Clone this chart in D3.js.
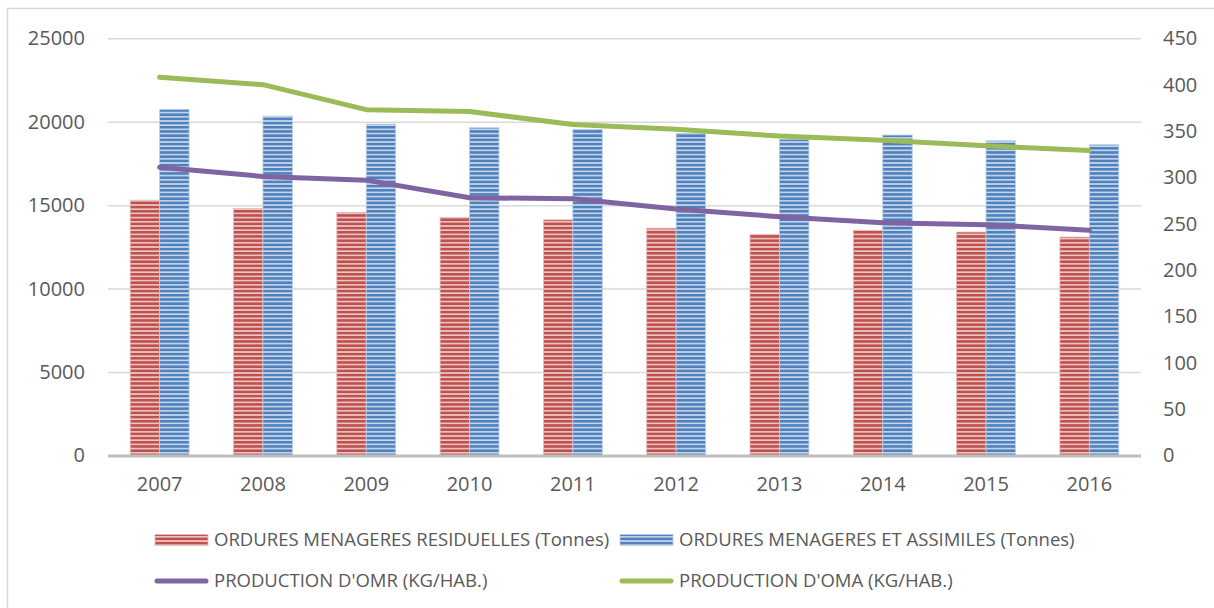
<!DOCTYPE html>
<html><head><meta charset="utf-8">
<script src="https://cdn.jsdelivr.net/npm/d3@7"></script>
<style>
body{margin:0;background:#fff;}
svg{display:block;font-family:"Open Sans",sans-serif;}
</style></head>
<body>
<svg id="chart" width="1214" height="608"></svg>
<script>
const years = ["2007","2008","2009","2010","2011","2012","2013","2014","2015","2016"];
const omrTonnes = [15300, 14800, 14570, 14270, 14120, 13620, 13250, 13500, 13390, 13090];
const omaTonnes = [20740, 20340, 19860, 19640, 19540, 19300, 18950, 19200, 18860, 18620];
const prodOmr = [311, 301, 297, 278, 277, 266, 257.5, 251, 249, 243];
const prodOma = [408, 400, 373, 371, 357, 352, 344.5, 340, 334, 329];
const leftTicks = [0, 5000, 10000, 15000, 20000, 25000];
const rightTicks = [0, 50, 100, 150, 200, 250, 300, 350, 400, 450];
const seriesNames = ["ORDURES MENAGERES RESIDUELLES (Tonnes)", "ORDURES MENAGERES ET ASSIMILES (Tonnes)", "PRODUCTION D'OMR (KG/HAB.)", "PRODUCTION D'OMA (KG/HAB.)"];

const svg = d3.select("#chart");
const L = 108, R = 1141, T = 38.3, B = 455.5;
const txt = "#595959";

// outer border
svg.append("rect").attr("x",7.5).attr("y",8.5).attr("width",1220).attr("height",620)
  .attr("fill","none").attr("stroke","#d9d9d9").attr("stroke-width",1.5);

// patterns
const defs = svg.append("defs");
function stripe(id, dark, light){
  const p = defs.append("pattern").attr("id",id).attr("patternUnits","userSpaceOnUse")
    .attr("width",8).attr("height",4.2);
  p.append("rect").attr("width",8).attr("height",4.2).attr("fill",light);
  p.append("rect").attr("y",0).attr("width",8).attr("height",2.6).attr("fill",dark);
}
stripe("pRed","#c0504d","#ecc9c8");
stripe("pBlue","#4f81bd","#c9d8ec");

const x = d3.scaleBand().domain(years).range([L,R]).paddingInner(0.43).paddingOuter(0.215);
const xs = d3.scaleBand().domain(["omr","oma"]).range([0,x.bandwidth()]);
const yL = d3.scaleLinear().domain([0,25000]).range([B,T]);
const yR = d3.scaleLinear().domain([0,450]).range([B,T]);

// gridlines
const grid = svg.append("g").attr("transform",`translate(${L},0)`)
  .call(d3.axisLeft(yL).tickValues(leftTicks.slice(1)).tickSize(-(R-L)).tickFormat(""));
grid.select(".domain").remove();
grid.selectAll("line").attr("stroke","#d9d9d9").attr("stroke-width",1.5);

// bars
const bars = svg.append("g");
years.forEach((yr,i)=>{
  [["omr",omrTonnes[i],"url(#pRed)","#e6b9b8"],["oma",omaTonnes[i],"url(#pBlue)","#b9cde5"]].forEach(([k,v,f,s])=>{
    bars.append("rect").attr("x",x(yr)+xs(k)).attr("width",xs.bandwidth())
      .attr("y",yL(v)).attr("height",B-yL(v)).attr("fill",f)
      .attr("stroke",s).attr("stroke-width",0.8);
  });
});

// baseline
svg.append("line").attr("x1",L).attr("x2",R).attr("y1",B+0.5).attr("y2",B+0.5)
  .attr("stroke","#bfbfbf").attr("stroke-width",3);

// lines
const cx = d => x(d)+x.bandwidth()/2;
const lineGen = d3.line().x((d,i)=>cx(years[i])).y(d=>yR(d));
svg.append("path").datum(prodOmr).attr("d",lineGen).attr("fill","none")
  .attr("stroke","#8064a2").attr("stroke-width",5).attr("stroke-linecap","round").attr("stroke-linejoin","round");
svg.append("path").datum(prodOma).attr("d",lineGen).attr("fill","none")
  .attr("stroke","#9bbb59").attr("stroke-width",5).attr("stroke-linecap","round").attr("stroke-linejoin","round");

// axes
const fs = 20;
const ax1 = svg.append("g").attr("transform",`translate(${L},0)`)
  .call(d3.axisLeft(yL).tickValues(leftTicks).tickSize(0).tickPadding(23).tickFormat(d3.format("d")));
const ax2 = svg.append("g").attr("transform",`translate(${R},0)`)
  .call(d3.axisRight(yR).tickValues(rightTicks).tickSize(0).tickPadding(22).tickFormat(d3.format("d")));
const ax3 = svg.append("g").attr("transform",`translate(0,${B})`)
  .call(d3.axisBottom(x).tickSize(0).tickPadding(21));
[ax1,ax2,ax3].forEach(a=>{
  a.select(".domain").remove();
  a.selectAll("text").attr("fill",txt).style("font-size",fs+"px").style("font-family",'"Open Sans",sans-serif');
});

// legend
const leg = svg.append("g");
const legPos = [[155,540],[620,540],[155,581],[620,581]];
const legStyle = [
  {type:"rect",fill:"url(#pRed)",stroke:"#e6b9b8"},
  {type:"rect",fill:"url(#pBlue)",stroke:"#b9cde5"},
  {type:"line",color:"#8064a2"},
  {type:"line",color:"#9bbb59"}];
seriesNames.forEach((n,i)=>{
  const [lx,ly] = legPos[i];
  const st = legStyle[i];
  if(st.type==="rect"){
    leg.append("rect").attr("x",lx).attr("y",ly-5.5).attr("width",53).attr("height",11)
      .attr("fill",st.fill).attr("stroke",st.stroke).attr("stroke-width",0.8);
  } else {
    leg.append("line").attr("x1",lx+2).attr("x2",lx+51).attr("y1",ly).attr("y2",ly)
      .attr("stroke",st.color).attr("stroke-width",5).attr("stroke-linecap","round");
  }
  leg.append("text").attr("x",lx+59).attr("y",ly).attr("dy","0.35em")
    .attr("fill",txt).style("font-size","18.5px").text(n);
});
</script>
</body></html>
